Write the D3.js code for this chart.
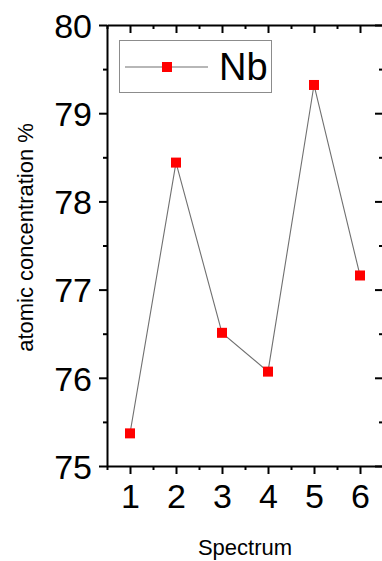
<!DOCTYPE html>
<html>
<head>
<meta charset="utf-8">
<script src="https://cdn.jsdelivr.net/npm/d3@7"></script>
<style>
  html, body { margin: 0; padding: 0; background: #fff; }
  svg { display: block; font-family: "Liberation Sans", Arial, sans-serif; }
</style>
</head>
<body>
<svg id="chart" width="382" height="561"></svg>
<script>
// Nb atomic concentration per EDS spectrum
const spectra = [1, 2, 3, 4, 5, 6];
const nbValues = [75.37, 78.44, 76.51, 76.07, 79.32, 77.16];
const xTickValues = [1, 2, 3, 4, 5, 6];
const xMinorTicks = [0.5, 1.5, 2.5, 3.5, 4.5, 5.5, 6.5];
const yTickValues = [75, 76, 77, 78, 79, 80];
const yMinorTicks = [75.5, 76.5, 77.5, 78.5, 79.5];
const seriesName = "Nb";
const xTitle = "Spectrum";
const yTitle = "atomic concentration %";

const svg = d3.select("#chart");
const plotLeft = 107, plotRight = 383, plotTop = 25, plotBottom = 466;

const x = d3.scaleLinear().domain([0.5, 6.5]).range([plotLeft, plotRight]);
const y = d3.scaleLinear().domain([75, 80]).range([plotBottom, plotTop]);

const axisColor = "#000";

function styleAxis(g) {
  g.selectAll("path.domain").attr("stroke", axisColor).attr("stroke-width", 2);
  g.selectAll(".tick line").attr("stroke", axisColor).attr("stroke-width", 2);
  g.selectAll(".tick text").attr("fill", "#000");
}

// left axis: labelled major ticks outward, minor ticks outward
const gLeft = svg.append("g").attr("transform", `translate(${plotLeft},0)`)
  .call(d3.axisLeft(y).tickValues(yTickValues).tickSize(8).tickSizeOuter(0).tickPadding(7).tickFormat(d3.format("d")));
gLeft.selectAll(".tick text").attr("font-size", 34).attr("dy", "0.36em");
styleAxis(gLeft);
const gLeftMinor = svg.append("g").attr("transform", `translate(${plotLeft},0)`)
  .call(d3.axisLeft(y).tickValues(yMinorTicks).tickSize(4).tickSizeOuter(0).tickFormat(""));
gLeftMinor.select("path.domain").remove();
styleAxis(gLeftMinor);

// right axis: ticks pointing into the plot
const gRight = svg.append("g").attr("transform", `translate(${plotRight},0)`)
  .call(d3.axisLeft(y).tickValues(yTickValues).tickSize(8).tickSizeOuter(0).tickFormat(""));
styleAxis(gRight);
const gRightMinor = svg.append("g").attr("transform", `translate(${plotRight},0)`)
  .call(d3.axisLeft(y).tickValues(yMinorTicks).tickSize(4).tickSizeOuter(0).tickFormat(""));
gRightMinor.select("path.domain").remove();
styleAxis(gRightMinor);

// bottom axis: labelled, ticks outward
const gBottom = svg.append("g").attr("transform", `translate(0,${plotBottom})`)
  .call(d3.axisBottom(x).tickValues(xTickValues).tickSize(8).tickSizeOuter(0).tickPadding(10).tickFormat(d3.format("d")));
gBottom.selectAll(".tick text").attr("font-size", 34);
styleAxis(gBottom);
const gBottomMinor = svg.append("g").attr("transform", `translate(0,${plotBottom})`)
  .call(d3.axisBottom(x).tickValues(xMinorTicks).tickSize(4).tickSizeOuter(0).tickFormat(""));
gBottomMinor.select("path.domain").remove();
styleAxis(gBottomMinor);

// top axis: ticks pointing down into the plot
const gTop = svg.append("g").attr("transform", `translate(0,${plotTop})`)
  .call(d3.axisBottom(x).tickValues(xTickValues).tickSize(8).tickSizeOuter(0).tickFormat(""));
styleAxis(gTop);
const gTopMinor = svg.append("g").attr("transform", `translate(0,${plotTop})`)
  .call(d3.axisBottom(x).tickValues(xMinorTicks).tickSize(4).tickSizeOuter(0).tickFormat(""));
gTopMinor.select("path.domain").remove();
styleAxis(gTopMinor);

// axis titles
svg.append("text")
  .attr("x", (plotLeft + plotRight) / 2).attr("y", 555)
  .attr("text-anchor", "middle").attr("font-size", 22).attr("fill", "#000")
  .text(xTitle);
svg.append("text")
  .attr("transform", `translate(33,${(plotTop + plotBottom) / 2 - 8}) rotate(-90)`)
  .attr("text-anchor", "middle").attr("font-size", 22).attr("fill", "#000")
  .text(yTitle);

// data line and markers
const pts = spectra.map((s, i) => [s, nbValues[i]]);
svg.append("path")
  .datum(pts)
  .attr("fill", "none").attr("stroke", "#707070").attr("stroke-width", 1.1)
  .attr("d", d3.line().x(d => x(d[0])).y(d => y(d[1])));
const ms = 10;
svg.selectAll("rect.marker").data(pts).join("rect")
  .attr("class", "marker")
  .attr("x", d => x(d[0]) - ms / 2).attr("y", d => y(d[1]) - ms / 2)
  .attr("width", ms).attr("height", ms)
  .attr("fill", "#ff0000");

// legend
const lg = svg.append("g");
lg.append("rect").attr("x", 119.5).attr("y", 40.5).attr("width", 152).attr("height", 52)
  .attr("fill", "#fff").attr("stroke", "#8c8c8c").attr("stroke-width", 1);
lg.append("line").attr("x1", 125).attr("x2", 208).attr("y1", 67).attr("y2", 67)
  .attr("stroke", "#707070").attr("stroke-width", 1.1);
lg.append("rect").attr("x", 167 - ms / 2).attr("y", 67 - ms / 2).attr("width", ms).attr("height", ms)
  .attr("fill", "#ff0000");
lg.append("text").attr("x", 219).attr("y", 80).attr("font-size", 38).attr("fill", "#000")
  .text(seriesName);
</script>
</body>
</html>
